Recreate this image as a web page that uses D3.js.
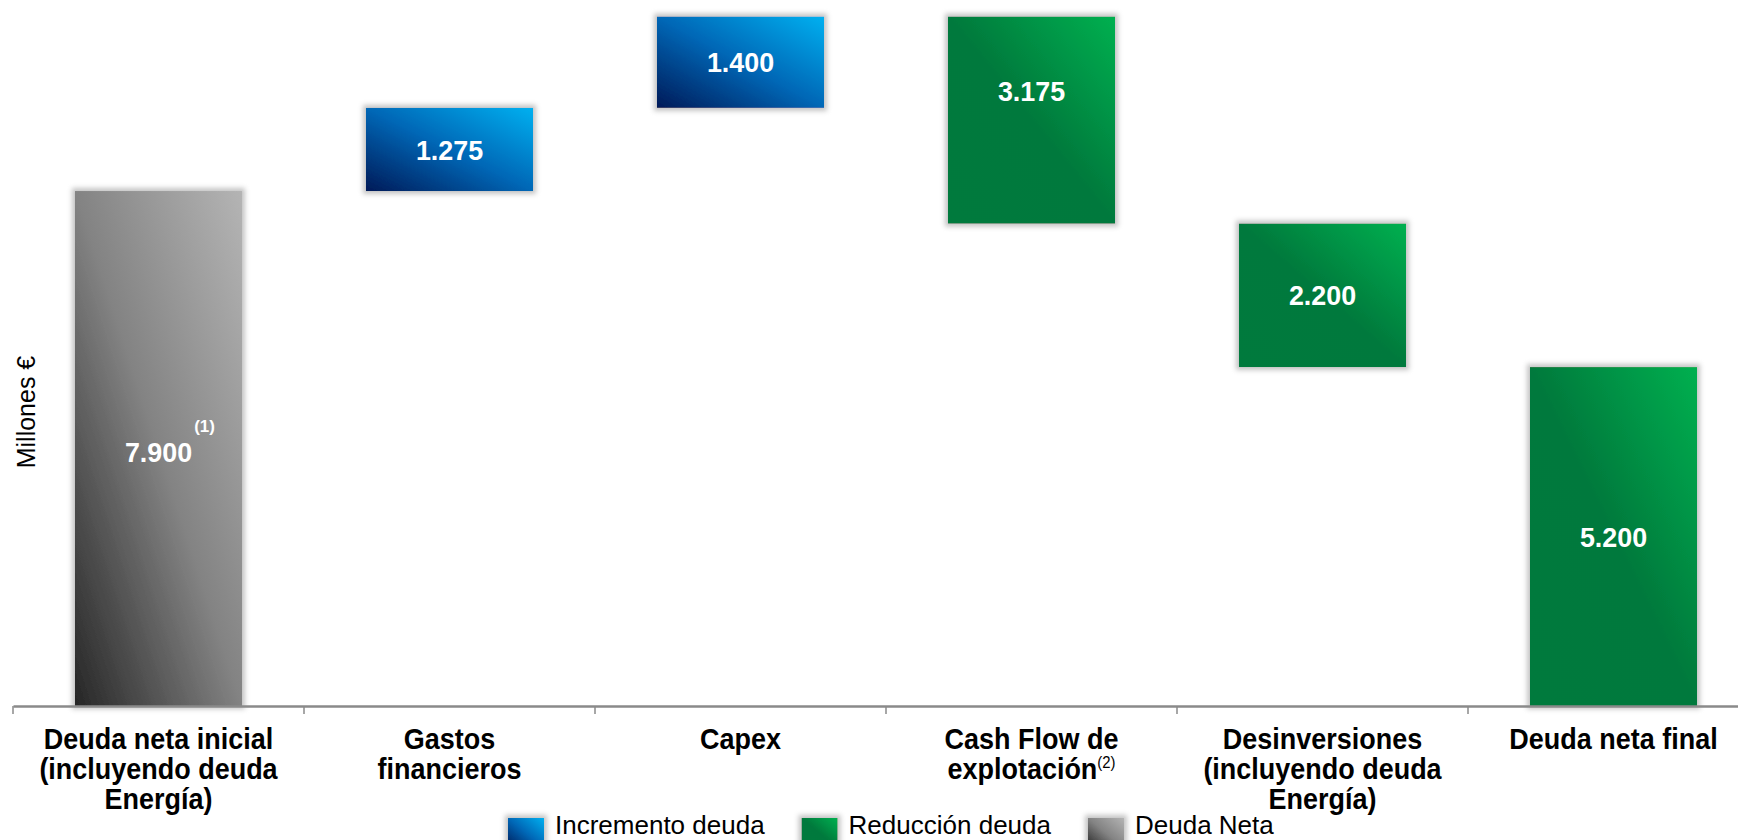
<!DOCTYPE html>
<html>
<head>
<meta charset="utf-8">
<script src="https://cdn.jsdelivr.net/npm/d3@7/dist/d3.min.js"></script>
<style>
  body { margin: 0; background: #fff; }
  text { font-family: Arial, "Liberation Sans", sans-serif; }
</style>
</head>
<body>
<div id="chart"></div>
<script>
// Chart data (Millones €)
const categoryLines = [
  ['Deuda neta inicial', '(incluyendo deuda', 'Energía)'],
  ['Gastos', 'financieros'],
  ['Capex'],
  ['Cash Flow de', 'explotación'],
  ['Desinversiones', '(incluyendo deuda', 'Energía)'],
  ['Deuda neta final']
];
const steps = [7900, 1275, 1400, -3175, -2200, 5200];
const stepTypes = ['total', 'step', 'step', 'step', 'step', 'total'];
const fillKeys = ['grey', 'blue', 'blue', 'green', 'green', 'green'];
const valueNotes = ['(1)', '', '', '', '', ''];
const categoryNotes = ['', '', '', '(2)', '', ''];
const legendLabels = ['Incremento deuda', 'Reducción deuda', 'Deuda Neta'];
const legendKeys = ['blue', 'green', 'grey'];
const yAxisTitle = 'Millones €';

const width = 1738, height = 840;
const axisY = 706;

const svg = d3.select('#chart')
  .append('svg')
  .attr('width', width)
  .attr('height', height)
  .style('display', 'block');

// Gradients + soft halo
const defs = svg.append('defs');
const gradients = {
  blue: [[0, '#001a58'], [0.5, '#0067b6'], [1, '#00b0f0']],
  green: [[0, '#007a3d'], [0.5, '#00793c'], [1, '#00b050']],
  grey: [[0, '#262626'], [0.5, '#838383'], [1, '#b4b4b4']]
};
Object.entries(gradients).forEach(([key, stops]) => {
  const g = defs.append('linearGradient')
    .attr('id', `grad-${key}`)
    .attr('x1', 0).attr('y1', 1)
    .attr('x2', 1).attr('y2', 0);
  stops.forEach(([o, c]) => g.append('stop').attr('offset', o).attr('stop-color', c));
});

const glow = defs.append('filter')
  .attr('id', 'glow')
  .attr('x', '-30%').attr('y', '-30%')
  .attr('width', '160%').attr('height', '160%');
glow.append('feMorphology').attr('in', 'SourceAlpha').attr('operator', 'dilate').attr('radius', 3).attr('result', 'd');
glow.append('feGaussianBlur').attr('in', 'd').attr('stdDeviation', 2.5).attr('result', 'b');
glow.append('feFlood').attr('flood-color', '#c4c4c4');
glow.append('feComposite').attr('in2', 'b').attr('operator', 'in').attr('result', 's');
const merge = glow.append('feMerge');
merge.append('feMergeNode').attr('in', 's');
merge.append('feMergeNode').attr('in', 'SourceGraphic');

// Waterfall spans
let running = 0;
const bars = steps.map((v, i) => {
  let a, b;
  if (stepTypes[i] === 'total') { a = 0; b = v; running = v; }
  else { a = running; b = running + v; running = b; }
  return { i, v, lo: Math.min(a, b), hi: Math.max(a, b), fill: fillKeys[i] };
});

// Scales
const x = d3.scaleBand()
  .domain(d3.range(categoryLines.length))
  .range([13, 13 + 291 * categoryLines.length])
  .paddingInner(0.426)
  .paddingOuter(0.213);

const y = d3.scaleLinear()
  .domain([0, 10800])
  .range([axisY, 2]);

const fmt = d3.formatLocale({ decimal: ',', thousands: '.', grouping: [3], currency: ['', '€'] }).format(',');

// Bars
svg.append('g')
  .selectAll('rect')
  .data(bars)
  .enter()
  .append('rect')
  .attr('x', d => x(d.i))
  .attr('y', d => y(d.hi))
  .attr('width', x.bandwidth())
  .attr('height', d => y(d.lo) - y(d.hi))
  .attr('fill', d => `url(#grad-${d.fill})`)
  .attr('filter', 'url(#glow)');

// X axis line + boundary ticks
const axis = svg.append('g')
  .attr('class', 'x axis')
  .attr('transform', `translate(0,${axisY})`)
  .call(d3.axisBottom(x).tickSize(0).tickSizeOuter(0).tickFormat(''));
axis.select('.domain').attr('stroke', '#8a8a8a').attr('stroke-width', 2.5);

axis.selectAll('line.bound')
  .data(d3.range(categoryLines.length + 1))
  .enter()
  .append('line')
  .attr('class', 'bound')
  .attr('x1', i => x.range()[0] + i * x.step())
  .attr('x2', i => x.range()[0] + i * x.step())
  .attr('y1', 0)
  .attr('y2', 8)
  .attr('stroke', '#8a8a8a')
  .attr('stroke-width', 1.5);

// Value labels
const labelNudge = { 0: 3, 3: -29 };
const valueG = svg.append('g');
bars.forEach(d => {
  const cx = x(d.i) + x.bandwidth() / 2;
  const cy = (y(d.lo) + y(d.hi)) / 2 + (labelNudge[d.i] || 0);
  const g = valueG.append('g').attr('transform', `translate(${cx},${cy})`);
  const t = g.append('text')
    .attr('transform', 'scale(0.96,1)')
    .attr('text-anchor', 'middle')
    .attr('dy', '0.36em')
    .attr('fill', '#fff')
    .style('font-size', '28px')
    .style('font-weight', 'bold')
    .text(fmt(Math.abs(d.v)));
  if (valueNotes[d.i]) {
    const w = t.node().getComputedTextLength() * 0.96;
    g.append('text')
      .attr('x', w / 2 + 2)
      .attr('y', 10 - 30)
      .attr('fill', '#fff')
      .style('font-size', '17px')
      .style('font-weight', 'bold')
      .text(valueNotes[d.i]);
  }
});

// Category labels
const catG = svg.append('g');
categoryLines.forEach((lines, i) => {
  const cx = x(i) + x.bandwidth() / 2;
  const t = catG.append('g')
    .attr('transform', `translate(${cx},749)`)
    .append('text')
    .attr('transform', 'scale(0.93,1)')
    .attr('text-anchor', 'middle')
    .attr('fill', '#000')
    .style('font-size', '29px')
    .style('font-weight', 'bold');
  lines.forEach((line, j) => {
    t.append('tspan').attr('x', 0).attr('dy', j === 0 ? 0 : 30).text(line);
  });
  if (categoryNotes[i]) {
    t.append('tspan')
      .attr('dy', -11)
      .style('font-size', '16px')
      .style('font-weight', 'normal')
      .text(categoryNotes[i]);
  }
});

// Y axis title
svg.append('text')
  .attr('transform', 'translate(35,412) rotate(-90)')
  .attr('text-anchor', 'middle')
  .attr('fill', '#000')
  .style('font-size', '25px')
  .text(yAxisTitle);

// Legend
const legend = svg.append('g').attr('class', 'legend');
let lx = 508;
legendLabels.forEach((label, i) => {
  legend.append('rect')
    .attr('x', lx)
    .attr('y', 818)
    .attr('width', 36)
    .attr('height', 30)
    .attr('fill', `url(#grad-${legendKeys[i]})`)
    .attr('filter', 'url(#glow)');
  const t = legend.append('text')
    .attr('x', lx + 47)
    .attr('y', 834)
    .attr('fill', '#000')
    .style('font-size', '26px')
    .text(label);
  lx += 47 + t.node().getComputedTextLength() + 37;
});
</script>
</body>
</html>
